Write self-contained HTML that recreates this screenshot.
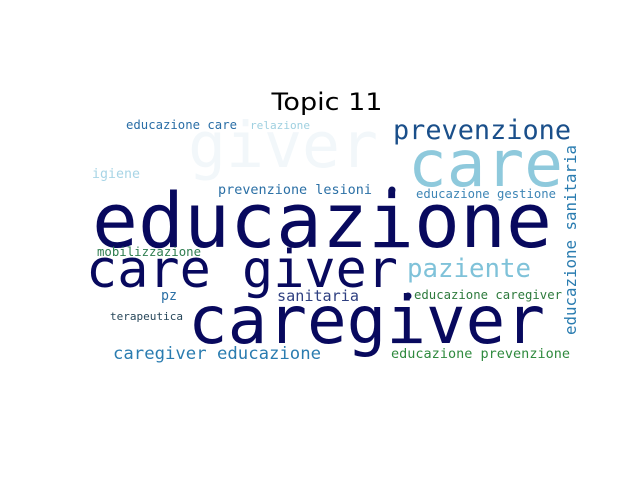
<!DOCTYPE html>
<html><head><meta charset="utf-8"><style>
html,body{margin:0;padding:0;background:#fff;}
svg{display:block;}
text{font-family:"DejaVu Sans Mono","Liberation Mono",monospace;}
</style></head><body>
<svg width="640" height="480" viewBox="0 0 640 480">
<rect width="640" height="480" fill="#fff"/>
<text x="327" y="110" text-anchor="middle" font-size="24" textLength="111" lengthAdjust="spacingAndGlyphs" style="font-family:'DejaVu Sans','Liberation Sans',sans-serif" fill="#000">Topic 11</text>
<g id="words"></g>
<circle cx="392" cy="190" r="3.5" fill="#0a0d5e"/>
<circle cx="408" cy="296" r="3.5" fill="#0a0d5e"/>
</svg>
<script>
const words=["giver","educazione","care giver","caregiver","care","prevenzione","paziente","prevenzione lesioni","educazione gestione","educazione care","relazione","igiene","mobilizzazione","pz","sanitaria","educazione caregiver","terapeutica","caregiver educazione","educazione prevenzione","educazione sanitaria"];
const xs=[188,92,86,188,408,393,407,218,416,126,250,92,97,161,277,414,110,113,391,576];
const ys=[167,247,287,343,186,139,277,194,198,129,129,178,256,300,301,299,320,359,358,335];
const widths=[190,460,312,357,155,178,124,154,140,111,60,48,104,16,82,148,73,208,179,190];
const sizes=[63,76,52,66,64,27,26,13.5,12.3,12.3,11,13.3,12.3,14,15,12.3,11,17.3,13.5,15.8];
const colors=["#f2f7fa","#08095e","#08095e","#08095e","#8ec9dc","#1a4f8a","#7fc2d9","#2a6fa5","#3d85b5","#2a6ea6","#9fd0e0","#a8d5e6","#2e7d4f","#2a6fa5","#2e3f80","#2d7a3c","#27475a","#2a7cb0","#2f8a3e","#2a7cb0"];
const rot=[0,0,0,0,0,0,0,0,0,0,0,0,0,0,0,0,0,0,0,-90];
const g=document.getElementById('words');
const NS='http://www.w3.org/2000/svg';
words.forEach((w,i)=>{
  const t=document.createElementNS(NS,'text');
  t.setAttribute('x',xs[i]);t.setAttribute('y',ys[i]);
  t.setAttribute('font-size',sizes[i]);t.setAttribute('fill',colors[i]);
  t.setAttribute('textLength',widths[i]);t.setAttribute('lengthAdjust','spacingAndGlyphs');
  if(rot[i])t.setAttribute('transform','rotate('+rot[i]+' '+xs[i]+' '+ys[i]+')');
  t.textContent=w;
  
  
  g.appendChild(t);
});
</script>
</body></html>
